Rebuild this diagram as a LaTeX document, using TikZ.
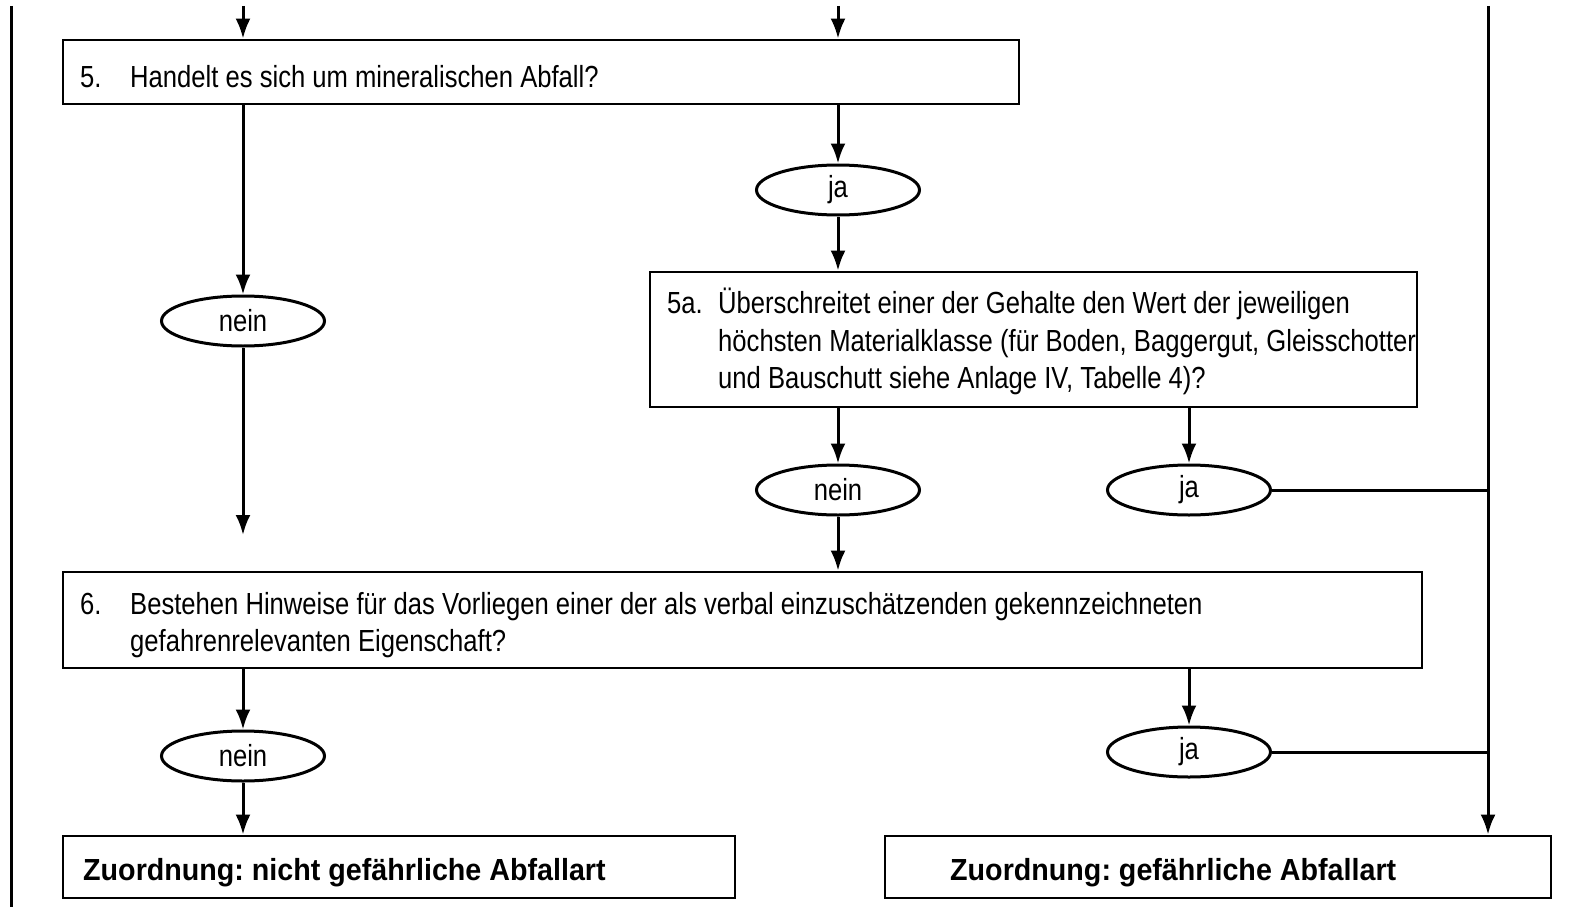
\documentclass[tikz,border=0pt]{standalone}
\usepackage{fontspec}
\setmainfont{Liberation Sans}[FakeStretch=0.84,BoldFeatures={FakeStretch=0.94}]
\usetikzlibrary{arrows.meta,shapes.geometric}
\newcommand{\fs}{\fontsize{30.5pt}{37pt}\selectfont\frenchspacing}
\begin{document}
\begin{tikzpicture}[x=1pt,y=-1pt,
  box/.style={draw,line width=2.8pt,rectangle,inner sep=0pt},
  oval/.style={draw,ellipse,line width=3pt,minimum width=163pt,minimum height=50pt,inner sep=0pt,font=\fs},
  txt/.style={anchor=base west,inner sep=0pt,font=\fs},
  btxt/.style={anchor=base west,inner sep=0pt,font=\fs\bfseries},
  arr/.style={line width=3pt,-{Latex[length=20pt,width=15pt]}},
  ln/.style={line width=3pt}]
\useasboundingbox (0,0) rectangle (1569,907);
% boxes
\node[box,minimum width=956pt,minimum height=64pt] (b5) at (541,72) {};
\node[box,minimum width=767pt,minimum height=135pt] (b5a) at (1033.5,339.5) {};
\node[box,minimum width=1359pt,minimum height=96pt] (b6) at (742.5,620) {};
\node[box,minimum width=672pt,minimum height=62pt] (fl) at (399,867) {};
\node[box,minimum width=666pt,minimum height=62pt] (fr) at (1218,867) {};
% texts
\node[txt] (t5n) at (80,88) {5.};
\node[txt] (t5) at (130,88) {Handelt es sich um mineralischen Abfall?};
\node[txt] (t5an) at (667,313) {5a.};
\node[txt] (t5a1) at (718,313) {Überschreitet einer der Gehalte den Wert der jeweiligen};
\node[txt] (t5a2) at (718,351) {höchsten Materialklasse (für Boden, Baggergut, Gleisschotter};
\node[txt] (t5a3) at (718,388) {und Bauschutt siehe Anlage IV, Tabelle 4)?};
\node[txt] (t6n) at (80,614) {6.};
\node[txt] (t61) at (130,614) {Bestehen Hinweise für das Vorliegen einer der als verbal einzuschätzenden gekennzeichneten};
\node[txt] (t62) at (130,651) {gefahrenrelevanten Eigenschaft?};
\node[btxt] (tfl) at (83,880) {Zuordnung: nicht gefährliche Abfallart};
\node[btxt] (tfr) at (950,880) {Zuordnung: gefährliche Abfallart};
% ovals
\node[oval] (n1) at (243,321) {nein};
\node[oval] (j1) at (838,190) {ja};
\node[oval] (n2) at (838,490) {nein};
\node[oval] (j2) at (1189,490) {ja};
\node[oval] (n3) at (243,756) {nein};
\node[oval] (j3) at (1189,752) {ja};
% coordinates
\coordinate (s1) at (243,6);
\coordinate (s2) at (838,6);
\coordinate (sr) at (1488,6);
\coordinate (sl) at (11,6);
\coordinate (el) at (11,907);
\coordinate (e1) at (243,535);
% connectors
\draw[ln] (sl) -- (el);
\draw[arr] (s1) -- (s1 |- b5.north);
\draw[arr] (s2) -- (s2 |- b5.north);
\draw[arr] (sr) -- (sr |- fr.north);
\draw[arr] (b5.south -| n1) -- (n1.north);
\draw[arr] (n1.south) -- (e1);
\draw[arr] (b5.south -| j1) -- (j1.north);
\draw[arr] (j1.south) -- (j1 |- b5a.north);
\draw[arr] (b5a.south -| n2) -- (n2.north);
\draw[arr] (b5a.south -| j2) -- (j2.north);
\draw[ln] (j2.east) -- (j2.east -| sr);
\draw[arr] (n2.south) -- (n2 |- b6.north);
\draw[arr] (b6.south -| n3) -- (n3.north);
\draw[arr] (b6.south -| j3) -- (j3.north);
\draw[ln] (j3.east) -- (j3.east -| sr);
\draw[arr] (n3.south) -- (n3 |- fl.north);
\end{tikzpicture}
\end{document}
